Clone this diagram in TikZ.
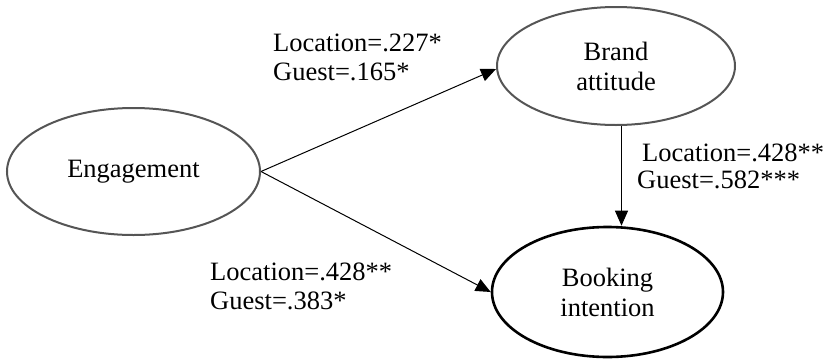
\documentclass[tikz,border=0pt]{standalone}
\usepackage{fontspec}
\setmainfont{Liberation Serif}
\usetikzlibrary{shapes.geometric,arrows.meta}
\definecolor{ellgray}{HTML}{555555}
\begin{document}
\begin{tikzpicture}[x=1pt,y=-1pt,
  every node/.style={font=\fontsize{26.5}{30}\selectfont, inner sep=0pt},
  latent/.style={ellipse, draw=ellgray, line width=2pt, align=center},
  keylatent/.style={ellipse, draw=black, line width=2.6pt, align=center},
  coef/.style={align=left, anchor=west, font=\fontsize{26.5}{29}\selectfont},
  path/.style={draw=black, line width=1pt, -{Triangle[length=15pt,width=13pt]}}
]
\useasboundingbox (0,0) rectangle (827,359);
\node[latent, minimum width=253pt, minimum height=127pt] (eng) at (133.5,171.5) {Engagement};
\node[latent, minimum width=238pt, minimum height=118pt] (brand) at (616,66) {Brand\\attitude};
\node[keylatent, minimum width=231pt, minimum height=130pt] (book) at (607.5,292) {Booking\\intention};

\draw[path] (eng.east) -- ([yshift=-3pt]brand.west);
\draw[path] (eng.east) -- (book.west);
\draw[path] ([xshift=5.5pt]brand.south) -- ([xshift=14pt]book.north);

\node[coef] (l1) at (273,57.5) {Location=.227*\\Guest=.165*};
\node[coef] (l2) at (210,286.5) {Location=.428**\\Guest=.383*};
\node[coef] (l3a) at (642,153) {Location=.428**};
\node[coef] (l3b) at (637,180) {Guest=.582***};
\end{tikzpicture}
\end{document}
